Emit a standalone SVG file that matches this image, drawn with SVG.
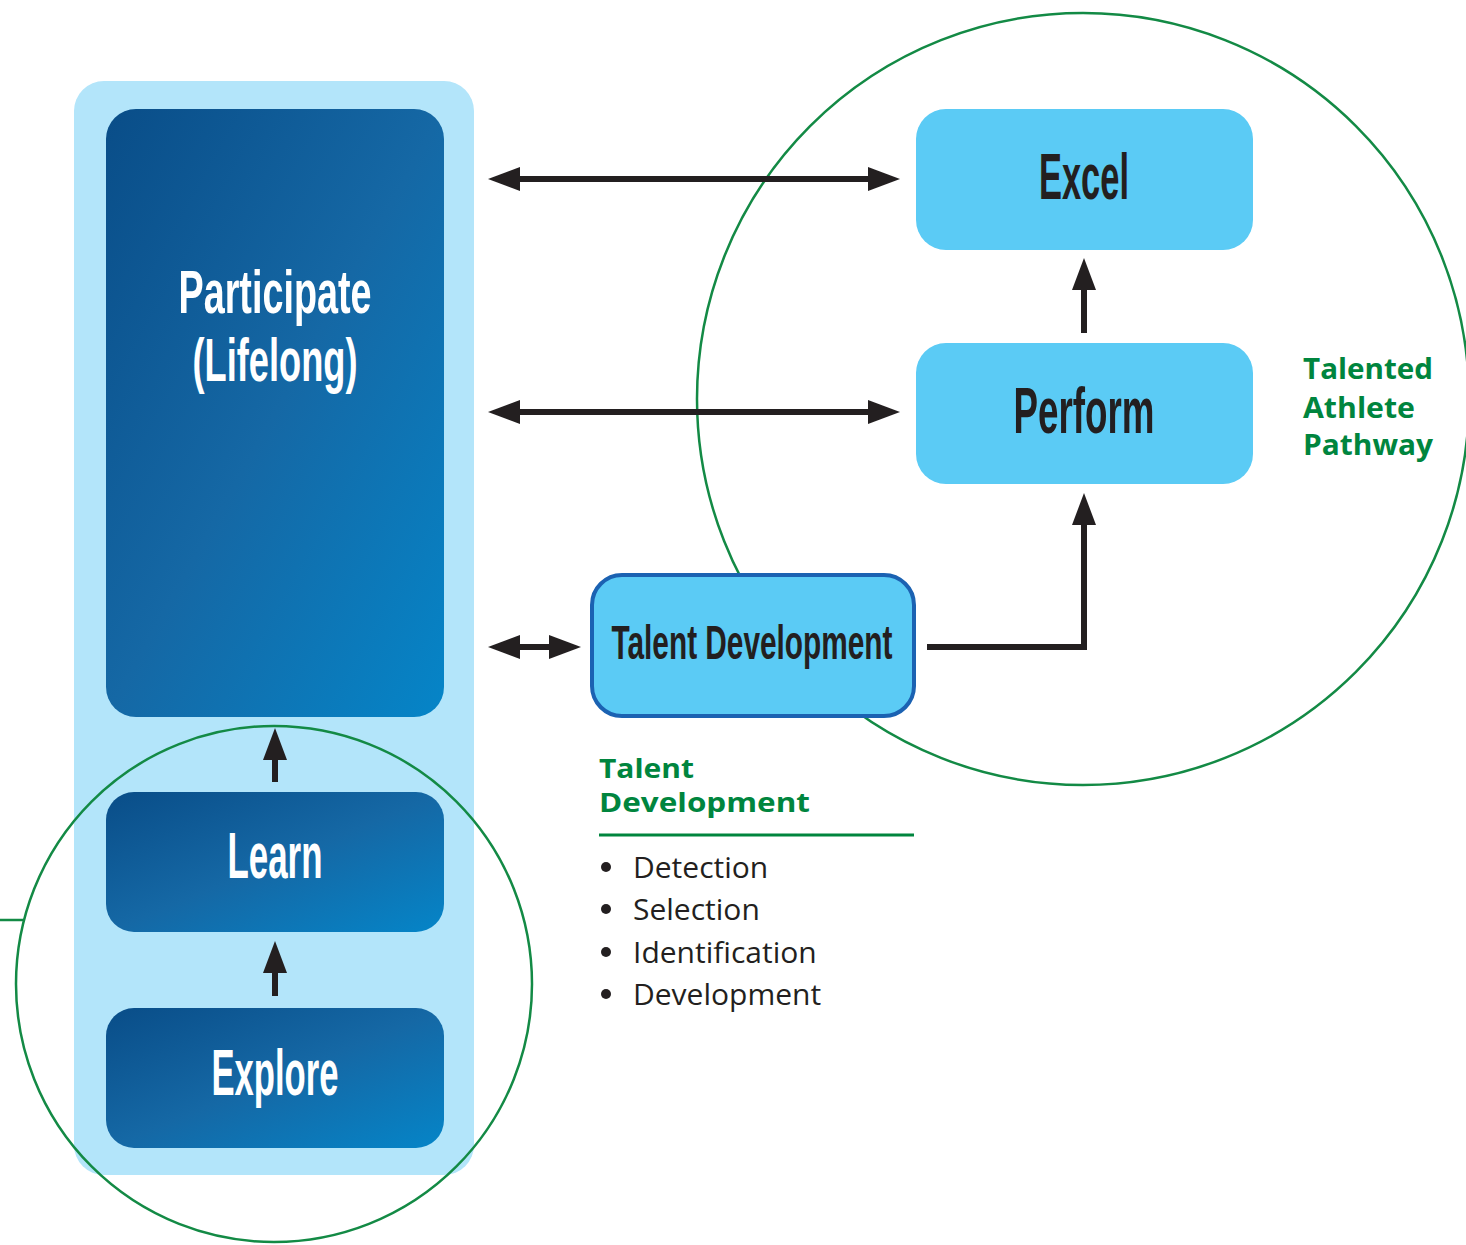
<svg xmlns="http://www.w3.org/2000/svg" width="1466" height="1245" viewBox="0 0 1466 1245">
<style>
.title{font-family:"Liberation Sans",Arial,sans-serif;font-weight:bold;text-anchor:middle}
.white{fill:#ffffff}
.dark{fill:#231f20}
.green{font-family:"Open Sans","Noto Sans",sans-serif;font-weight:bold;font-size:29px;fill:#00853e}
.hd{font-size:27px}
.bul{font-family:"Open Sans","Noto Sans",sans-serif;font-size:30px;fill:#231f20}
.conn{fill:none;stroke:#231f20;stroke-width:6;stroke-linejoin:miter}
.ring{fill:none;stroke:#138a45;stroke-width:2.5}
.lbox{fill:#5bcbf5}
</style>
<defs>
<linearGradient id="dg" x1="0" y1="0" x2="1" y2="1">
<stop offset="0" stop-color="#094d88"/>
<stop offset="0.5" stop-color="#1568a5"/>
<stop offset="1" stop-color="#0585c8"/>
</linearGradient>
<marker id="ah" viewBox="0 0 32 24" refX="2" refY="12" markerWidth="32" markerHeight="24" markerUnits="userSpaceOnUse" orient="auto-start-reverse">
<path d="M0,0 L32,12 L0,24 Z" fill="#231f20"/>
</marker>
</defs>
<rect width="1466" height="1245" fill="#ffffff"/>
<g id="panel">
<rect x="74" y="81" width="400" height="1094" rx="30" fill="#b3e5fa"/>
</g>
<g id="rings">
<circle class="ring" cx="1083" cy="399" r="386"/>
<circle class="ring" cx="274" cy="984" r="258"/>
<line class="ring" x1="0" y1="920" x2="24" y2="920"/>
</g>
<g id="participate">
<rect x="106" y="109" width="338" height="608" rx="30" fill="url(#dg)"/>
<text class="title white" x="275" y="313" font-size="62" textLength="193" lengthAdjust="spacingAndGlyphs">Participate</text>
<text class="title white" x="275" y="381" font-size="62" textLength="165" lengthAdjust="spacingAndGlyphs">(Lifelong)</text>
</g>
<g id="learn">
<rect x="106" y="792" width="338" height="140" rx="28" fill="url(#dg)"/>
<text class="title white" x="275" y="878" font-size="64" textLength="95" lengthAdjust="spacingAndGlyphs">Learn</text>
</g>
<g id="explore">
<rect x="106" y="1008" width="338" height="140" rx="28" fill="url(#dg)"/>
<text class="title white" x="275" y="1095" font-size="64" textLength="127" lengthAdjust="spacingAndGlyphs">Explore</text>
</g>
<g id="excel">
<rect class="lbox" x="916" y="109" width="337" height="141" rx="30"/>
<text class="title dark" x="1084" y="199" font-size="64" textLength="90" lengthAdjust="spacingAndGlyphs">Excel</text>
</g>
<g id="perform">
<rect class="lbox" x="916" y="343" width="337" height="141" rx="30"/>
<text class="title dark" x="1084" y="433" font-size="64" textLength="141" lengthAdjust="spacingAndGlyphs">Perform</text>
</g>
<g id="talent-development">
<rect x="592" y="575" width="322" height="141" rx="30" fill="#5bcbf5" stroke="#1b62b2" stroke-width="4"/>
<text class="title dark" x="752" y="659" font-size="49" textLength="281" lengthAdjust="spacingAndGlyphs">Talent Development</text>
</g>
<g id="connectors">
<line class="conn" x1="518" y1="179" x2="870" y2="179" marker-start="url(#ah)" marker-end="url(#ah)"/>
<line class="conn" x1="518" y1="412" x2="870" y2="412" marker-start="url(#ah)" marker-end="url(#ah)"/>
<line class="conn" x1="518" y1="647" x2="551" y2="647" marker-start="url(#ah)" marker-end="url(#ah)"/>
<path class="conn" d="M927,647 H1084 V523" marker-end="url(#ah)"/>
<line class="conn" x1="1084" y1="333" x2="1084" y2="288" marker-end="url(#ah)"/>
<line class="conn" x1="275" y1="996" x2="275" y2="971" marker-end="url(#ah)"/>
<line class="conn" x1="275" y1="782" x2="275" y2="758" marker-end="url(#ah)"/>
</g>
<g id="pathway-label">
<text class="green" x="1303" y="379" textLength="130" lengthAdjust="spacingAndGlyphs">Talented</text>
<text class="green" x="1303" y="418" textLength="112" lengthAdjust="spacingAndGlyphs">Athlete</text>
<text class="green" x="1303" y="455" textLength="130" lengthAdjust="spacingAndGlyphs">Pathway</text>
</g>
<g id="talent-development-list">
<text class="green hd" x="599" y="778" textLength="95" lengthAdjust="spacingAndGlyphs">Talent</text>
<text class="green hd" x="599" y="812" textLength="211" lengthAdjust="spacingAndGlyphs">Development</text>
<line x1="599" y1="835" x2="914" y2="835" stroke="#00853e" stroke-width="3"/>
<circle cx="606" cy="867" r="5" fill="#231f20"/>
<circle cx="606" cy="909" r="5" fill="#231f20"/>
<circle cx="606" cy="952" r="5" fill="#231f20"/>
<circle cx="606" cy="994" r="5" fill="#231f20"/>
<text class="bul" x="633" y="878">Detection</text>
<text class="bul" x="633" y="920">Selection</text>
<text class="bul" x="633" y="963">Identification</text>
<text class="bul" x="633" y="1005">Development</text>
</g>
</svg>
